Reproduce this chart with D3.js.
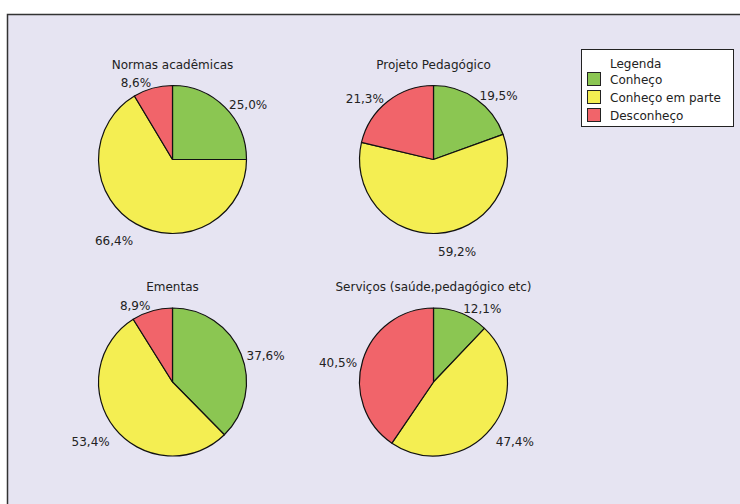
<!DOCTYPE html>
<html><head><meta charset="utf-8">
<script src="https://cdn.jsdelivr.net/npm/d3@7"></script>
<style>html,body{margin:0;padding:0;background:#fff;}svg{display:block;}</style>
</head><body>
<svg id="chart" width="740" height="504"></svg>
<script>
const titles = ["Normas acadêmicas", "Projeto Pedagógico", "Ementas", "Serviços (saúde,pedagógico etc)"];
const categories = ["Conheço", "Conheço em parte", "Desconheço"];
const conheco = [25.0, 19.5, 37.6, 12.1];
const conhecoEmParte = [66.4, 59.2, 53.4, 47.4];
const desconheco = [8.6, 21.3, 8.9, 40.5];
const colors = ["#8BC652", "#F4EE52", "#F1646A"];

const svg = d3.select("#chart");
const font = "DejaVu Sans, Verdana, sans-serif";

// background panel
svg.append("rect").attr("x", 7.5).attr("y", 14.5).attr("width", 740).attr("height", 500)
  .attr("fill", "#E6E4F2").attr("stroke", "#333").attr("stroke-width", 1.5);

const R = 74;
const colX = d3.scalePoint().domain([0, 1]).range([172.5, 433.5]);
const rowY = d3.scalePoint().domain([0, 1]).range([159.5, 382]);

const pie = d3.pie().sort(null).value(d => d.v);
const arc = d3.arc().innerRadius(0).outerRadius(R);
const fmt = v => d3.format(".1f")(v).replace(".", ",") + "%";

titles.forEach((t, i) => {
  const cx = colX(i % 2), cy = rowY(Math.floor(i / 2));
  const g = svg.append("g").attr("transform", `translate(${cx},${cy})`);
  const data = [conheco[i], conhecoEmParte[i], desconheco[i]].map((v, k) => ({v, k}));
  const arcs = pie(data);
  g.selectAll("path").data(arcs).join("path")
    .attr("d", arc).attr("fill", d => colors[d.data.k])
    .attr("stroke", "#111").attr("stroke-width", 1.2).attr("stroke-linejoin", "round");
  g.append("text").attr("x", 0).attr("y", -R - 17).attr("text-anchor", "middle")
    .attr("font-family", font).attr("font-size", 12).attr("fill", "#222").text(t);
  arcs.forEach(d => {
    const a = (d.startAngle + d.endAngle) / 2;
    const s = Math.sin(a), c = -Math.cos(a);
    const px = (R + 6) * s, py = (R + 6) * c;
    g.append("text")
      .attr("x", px).attr("y", py + 10.5 + c * 6)
      .attr("text-anchor", s >= 0 ? "start" : "end")
      .attr("font-family", font).attr("font-size", 12).attr("fill", "#222")
      .text(fmt(d.data.v));
  });
});

// legend
const lg = svg.append("g");
lg.append("rect").attr("x", 581.5).attr("y", 49.5).attr("width", 152).attr("height", 77)
  .attr("fill", "#fff").attr("stroke", "#222").attr("stroke-width", 1);
lg.append("text").attr("x", 610).attr("y", 68).attr("font-family", font).attr("font-size", 12)
  .attr("fill", "#222").text("Legenda");
categories.forEach((c, k) => {
  lg.append("rect").attr("x", 587.5).attr("y", 72.5 + k * 18).attr("width", 13).attr("height", 13)
    .attr("fill", colors[k]).attr("stroke", "#222").attr("stroke-width", 1);
  lg.append("text").attr("x", 610).attr("y", 84 + k * 18).attr("font-family", font).attr("font-size", 12)
    .attr("fill", "#222").text(c);
});
</script>
</body></html>
